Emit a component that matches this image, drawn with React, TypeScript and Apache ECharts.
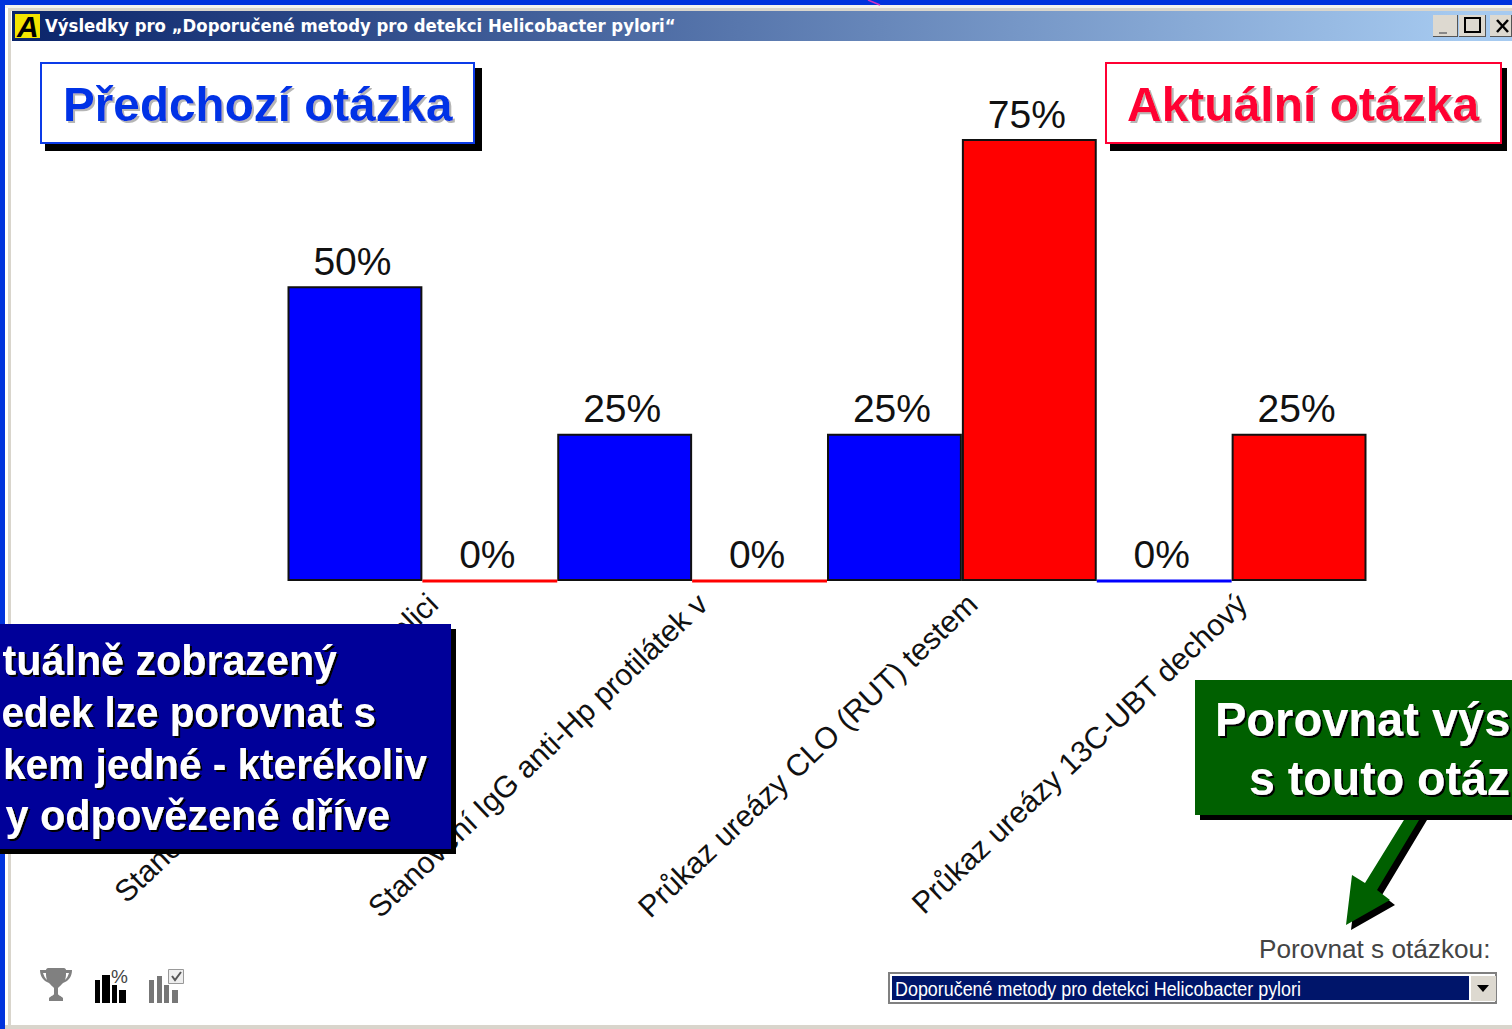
import React, { useEffect, useRef } from "react";
import * as echarts from "echarts";

const categories = [
  "Stanovení antigenu Hp ve stolici",
  "Stanovení IgG anti-Hp protilátek v",
  "Průkaz ureázy CLO (RUT) testem",
  "Průkaz ureázy 13C-UBT dechový",
];
const previousQuestion = [50, 25, 25, 0];
const currentQuestion = [0, 0, 75, 25];
const previousName = "Předchozí otázka";
const currentName = "Aktuální otázka";
const windowTitle = "Výsledky pro „Doporučené metody pro detekci Helicobacter pylori“";
const infoLines = ["tuálně zobrazený", "edek lze porovnat s", "kem jedné - kterékoliv", "y odpovězené dříve"];
const compareLines = ["Porovnat výs", "s touto otáz"];
const compareLabel = "Porovnat s otázkou:";
const dropdownValue = "Doporučené metody pro detekci Helicobacter pylori";

const BLUE = "#0000ff";
const RED = "#ff0000";
const Z = 100;

const trophyPath =
  "M8 0 H24 C25 0 26 1 26 2 H32 C32 8 29 13 23 15 C21 17 19 19 18 20 V26 C18 27 21 28 23 30 V33 H9 V30 C11 28 14 27 14 26 V20 C13 19 11 17 9 15 C3 13 0 8 0 2 H6 C6 1 7 0 8 0 Z M3 5 C4 8 5 10 7 12 C6 9 6 7 6 5 Z M29 5 H26 C26 7 26 9 25 12 C27 10 28 8 29 5 Z";
echarts.graphic.registerShape("trophy", echarts.graphic.extendPath(trophyPath, {}) as any);

const rect = (x: number, y: number, w: number, h: number, fill: any, extra: any = {}) => ({
  type: "rect", z: Z, shape: { x, y, width: w, height: h }, style: { fill, ...extra }, silent: true,
});
const poly = (points: number[][], fill: string) => ({
  type: "polygon", z: Z, shape: { points }, style: { fill }, silent: true,
});
const line = (x1: number, y1: number, x2: number, y2: number, stroke: string, lineWidth = 1) => ({
  type: "line", z: Z, shape: { x1, y1, x2, y2 }, style: { stroke, lineWidth }, silent: true,
});
// x, baseline: the text is placed from its top, which lies about 0.86 of the size above the baseline
const text = (x: number, baseline: number, t: string, size: number, weight: string, family: string, fill: string, extra: any = {}, el: any = {}) => ({
  type: "text", z: Z, x, y: baseline - size * 0.86, silent: true,
  style: { text: t, font: `${weight} ${size}px '${family}'`, fill, ...extra },
  ...el,
});
const shadow = (c: string, d: number) => ({ textShadowColor: c, textShadowOffsetX: d, textShadowOffsetY: d, textShadowBlur: 0.5 });
const LS = "Liberation Sans";

function chrome(): any[] {
  const gray = "#d9d5cc";
  const btn = (x: number, w: number) => [
    rect(x, 15, w, 22, "#ddd9d0"),
    line(x, 36.5, x + w, 36.5, "#555"),
    line(x + w - 0.5, 15, x + w - 0.5, 37, "#555"),
  ];
  const arrow = [[1407, 815], [1422, 815], [1377, 890], [1390, 900], [1346, 925], [1352, 875], [1365, 883]];
  return [
    rect(0, 0, 1512, 5, "#0033dd"),
    rect(0, 0, 5, 1029, "#0033dd"),
    rect(5, 5, 1507, 3, "#f4f3ee"),
    rect(8, 8, 1504, 3, gray),
    rect(8, 8, 3, 1021, gray),
    rect(5, 1025, 1507, 4, gray),
    line(868, 0, 880, 5, "#d030c0", 1.5),
    rect(12, 11, 1500, 30, new echarts.graphic.LinearGradient(0, 0, 1, 0, [
      { offset: 0, color: "#0a246a" }, { offset: 0.97, color: "#a6caf0" }, { offset: 1, color: "#a6caf0" },
    ])),
    rect(15, 14, 25, 24, "#f4e500"),
    text(17, 37, "A", 30, "italic bold", LS, "#000"),
    text(45, 32, windowTitle, 17.5, "bold", "DejaVu Sans", "#fff", {}, { scaleX: 0.945 }),
    ...btn(1433, 25), line(1439, 33, 1447, 33, "#888", 2),
    ...btn(1459, 27), { type: "rect", z: Z, shape: { x: 1465, y: 18, width: 15, height: 14 }, style: { fill: "none", stroke: "#000", lineWidth: 2 }, silent: true },
    ...btn(1490, 22), line(1497, 20, 1508, 32, "#000", 2.5), line(1508, 20, 1497, 32, "#000", 2.5),

    rect(45, 68, 437, 83, "#000"),
    { type: "rect", z: Z, shape: { x: 41, y: 63, width: 433, height: 80 }, style: { fill: "#fff", stroke: "#0c3be8", lineWidth: 2 }, silent: true },
    text(63, 122, previousName, 47.7, "bold", LS, "#0033e6", shadow("#b5b5b5", 2)),

    rect(1110, 68, 397, 83, "#000"),
    { type: "rect", z: Z, shape: { x: 1106, y: 63, width: 395, height: 80 }, style: { fill: "#fff", stroke: "#ff0033", lineWidth: 2 }, silent: true },
    text(1127, 122, currentName, 48, "bold", LS, "#ff0033", shadow("#b5b5b5", 2)),

    rect(0, 629, 456, 225, "#000"),
    rect(0, 624, 451, 225, "#000099"),
    ...infoLines.map((t, i) => text([337, 376, 427, 390][i], 675.5 + i * 51.7, t, 42.5, "bold", LS, "#fff",
      { align: "right", ...shadow("#000", 2) }, { scaleX: [0.97, 0.95, 0.955, 0.975][i] })),

    poly(arrow.map(([x, y]) => [x + 5, y + 5]), "#000"),
    poly(arrow, "#006000"),
    rect(1200, 685, 312, 135, "#000"),
    rect(1195, 680, 317, 135, "#006000"),
    ...compareLines.map((t, i) => text([1215, 1249][i], 737 + i * 59, t, 48, "bold", LS, "#fff",
      shadow("#000", 2), { scaleX: [0.98, 0.97][i] })),

    text(1259, 959, compareLabel, 26.2, "normal", LS, "#444"),
    rect(888, 972, 609, 32, "#808080"),
    rect(890, 974, 605, 28, "#ffffff"),
    rect(892, 976, 577, 24, "#00156a"),
    text(895, 996, dropdownValue, 20, "normal", LS, "#fff", {}, { scaleX: 0.896 }),
    rect(1471, 976, 25, 25, "#ddd9d0"),
    poly([[1477, 985], [1489, 985], [1483, 992]], "#000"),

    { type: "trophy", z: Z, x: 40, y: 968, style: { fill: "#808080" }, silent: true },

    rect(95, 980, 5, 23, "#000"), rect(102, 975, 8, 28, "#000"), rect(112, 985, 5, 18, "#000"), rect(119, 990, 7, 13, "#000"),
    text(111, 983, "%", 19, "normal", LS, "#444"),

    rect(149, 980, 5, 23, "#777"), rect(157, 976, 5, 27, "#777"), rect(164, 985, 5, 18, "#777"), rect(172, 990, 6, 13, "#777"),
    { type: "rect", z: Z, shape: { x: 168.5, y: 969.5, width: 15, height: 14 }, style: { fill: "#eee", stroke: "#999", lineWidth: 1 }, silent: true },
    { type: "polyline", z: Z, shape: { points: [[172, 976], [175, 980], [181, 972]] }, style: { fill: "none", stroke: "#555", lineWidth: 2 }, silent: true },
  ];
}

const barData = (values: number[], color: string) =>
  values.map((value) => ({
    value,
    itemStyle: value === 0
      ? { color, borderColor: color, borderWidth: 3 }
      : { color, borderColor: "#111", borderWidth: 2 },
  }));

const barLabel = {
  show: true, position: "top", formatter: "{c}%", fontFamily: "'Liberation Sans'",
  fontSize: 39, color: "#111", distance: 5.5, offset: [-2.5, 0],
};

export default function App() {
  const ref = useRef<HTMLDivElement>(null);
  useEffect(() => {
    document.body.style.margin = "0";
    const chart = echarts.init(ref.current!, undefined, { renderer: "svg" });
    chart.setOption({
      animation: false,
      backgroundColor: "#fff",
      grid: [
        { left: 287.5, top: 139, width: 1079, height: 442, containLabel: false, outerBoundsMode: "none" },
        { left: 298, top: 139, width: 1079, height: 442, containLabel: false, outerBoundsMode: "none" },
      ],
      xAxis: [
        { type: "category", gridIndex: 0, data: categories, axisLine: { show: false }, axisTick: { show: false }, axisLabel: { show: false } },
        {
          type: "category", gridIndex: 1, data: categories,
          axisLine: { show: false }, axisTick: { show: false },
          axisLabel: { interval: 0, rotate: 43.5, margin: 18, fontSize: 30.3, fontFamily: "'Liberation Sans'", color: "#111" },
        },
      ],
      yAxis: [
        { type: "value", gridIndex: 0, min: 0, max: 75, show: false },
        { type: "value", gridIndex: 1, min: 0, max: 75, show: false },
      ],
      series: [
        { type: "bar", name: previousName, data: barData(previousQuestion, BLUE), barGap: "0%", barCategoryGap: "0%", label: barLabel },
        { type: "bar", name: currentName, data: barData(currentQuestion, RED), label: barLabel },
      ],
      graphic: { elements: chrome() },
    });
    return () => chart.dispose();
  }, []);
  return <div ref={ref} style={{ position: "absolute", left: 0, top: 0, width: 1512, height: 1029, overflow: "hidden" }} />;
}
